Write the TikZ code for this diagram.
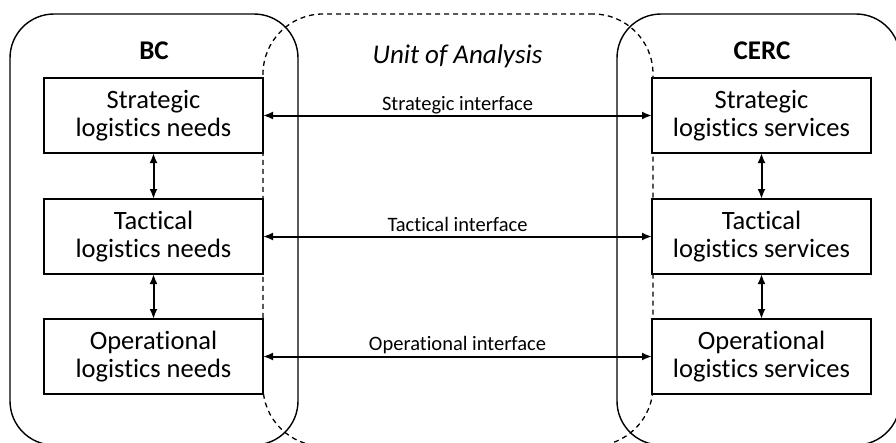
\documentclass[tikz,border=0pt]{standalone}
\usepackage{fontspec}
\setmainfont{Carlito}[Ligatures={NoCommon,NoContextual}]
\usetikzlibrary{arrows.meta}
\begin{document}
\begin{tikzpicture}[x=1pt,y=-1pt,
  frame/.style={draw, line width=1.4pt, rounded corners=44pt, inner sep=0pt, outer sep=0pt},
  scopeframe/.style={draw, line width=1.3pt, dash pattern=on 5pt off 4pt, rounded corners=60pt, inner sep=0pt, outer sep=0pt},
  level/.style={draw, line width=1.4pt, fill=white, minimum width=219pt, minimum height=75pt,
    inner sep=0pt, outer sep=0pt, align=center, font=\fontsize{26.5}{28.5}\selectfont},
  link/.style={line width=2pt, {Latex[length=10pt,width=8pt]}-{Latex[length=10pt,width=8pt]}},
  tag/.style={font=\fontsize{20.5}{24}\selectfont, anchor=base, inner sep=0pt},
  heading/.style={anchor=base, inner sep=0pt}
]
\useasboundingbox (0,0) rectangle (896,442);

% unit of analysis (dashed) and the two organisations
\node[scopeframe, minimum width=390pt, minimum height=432pt] (unit) at (458,230) {};
\node[frame, minimum width=288pt, minimum height=431pt] (bc) at (154,229.5) {};
\node[frame, minimum width=283pt, minimum height=431pt] (cerc) at (758.5,229.5) {};

\node[heading, font=\fontsize{27}{30}\selectfont\bfseries] (bct) at (154,59) {BC};
\node[heading, font=\fontsize{27}{30}\selectfont\bfseries] (cerct) at (762,59) {CERC};
\node[heading, font=\fontsize{27}{30}\selectfont\itshape] (unitt) at (457.5,63) {Unit of Analysis};

% logistics needs
\node[level] (sn) at (153.5,115.5) {Strategic\\logistics needs};
\node[level] (tn) at (153.5,236.5) {Tactical\\logistics needs};
\node[level] (on) at (153.5,356.5) {Operational\\logistics needs};

% logistics services
\node[level] (ss) at (761.5,115.5) {Strategic\\logistics services};
\node[level] (ts) at (761.5,236.5) {Tactical\\logistics services};
\node[level] (os) at (761.5,356.5) {Operational\\logistics services};

% vertical links
\draw[link] (sn.south) -- (tn.north);
\draw[link] (tn.south) -- (on.north);
\draw[link] (ss.south) -- (ts.north);
\draw[link] (ts.south) -- (os.north);

% interfaces
\draw[link] (sn.east) -- (ss.west) node[tag, midway, yshift=5pt] {Strategic interface};
\draw[link] (tn.east) -- (ts.west) node[tag, midway, yshift=5pt] {Tactical interface};
\draw[link] (on.east) -- (os.west) node[tag, midway, yshift=6pt] {Operational interface};
\end{tikzpicture}
\end{document}
